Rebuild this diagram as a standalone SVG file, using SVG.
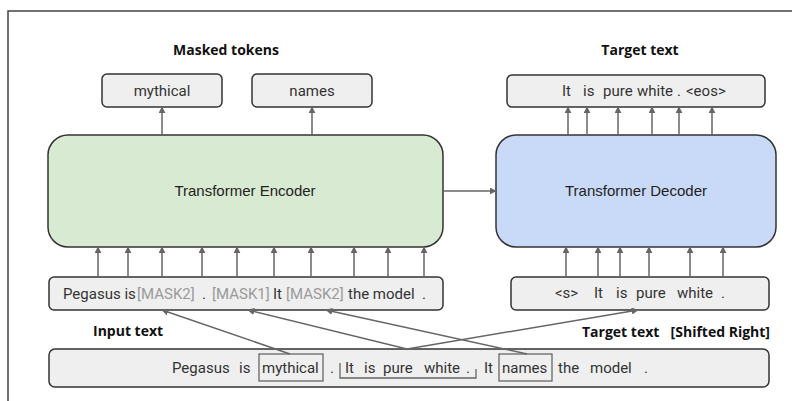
<svg xmlns="http://www.w3.org/2000/svg" width="792" height="401" viewBox="0 0 792 401">
  <defs>
    <marker id="arr" viewBox="0 0 10 10" refX="9" refY="5" markerWidth="7" markerHeight="7" markerUnits="userSpaceOnUse" orient="auto">
      <path d="M0,0 L10,5 L0,10 z" fill="#666"/>
    </marker>
    <style>
      .box { fill: #efefef; stroke: #333; stroke-width: 1.5; }
      .tok { font-family: Roboto, "Liberation Sans", sans-serif; font-size: 15px; fill: #333; }
      .mask { fill: #9a9a9a; }
      .lbl { font-family: "Open Sans", "Liberation Sans", sans-serif; font-size: 14px; font-weight: bold; fill: #111; }
      .big { font-family: "Liberation Sans", Arial, sans-serif; font-size: 15px; fill: #222; }
      .conn line { stroke: #666; stroke-width: 1.5; fill: none; marker-end: url(#arr); }
      .hl { fill: none; stroke: #666; stroke-width: 1.3; }
    </style>
  </defs>

  <!-- outer frame -->
  <path d="M8,401 V11 H792" fill="none" stroke="#444" stroke-width="1.5"/>

  <!-- section labels -->
  <text class="lbl" x="226" y="55" text-anchor="middle">Masked tokens</text>
  <text class="lbl" x="640" y="55" text-anchor="middle">Target text</text>
  <text class="lbl" x="93" y="336">Input text</text>
  <text class="lbl" x="582" y="337">Target text</text>
  <text class="lbl" x="770" y="337" text-anchor="end" font-size="14.5">[Shifted Right]</text>

  <!-- masked token outputs -->
  <g id="out-mythical">
    <rect class="box" x="102" y="74" width="120" height="33" rx="5"/>
    <text class="tok" x="162" y="96" text-anchor="middle">mythical</text>
  </g>
  <g id="out-names">
    <rect class="box" x="252" y="74" width="120" height="33" rx="5"/>
    <text class="tok" x="312" y="96" text-anchor="middle">names</text>
  </g>

  <!-- decoder output -->
  <g id="out-target">
    <rect class="box" x="507" y="75" width="258" height="32" rx="5"/>
    <text class="tok" y="96"><tspan x="562">It</tspan><tspan x="583">is</tspan><tspan x="603">pure</tspan><tspan x="637">white</tspan><tspan x="677">.</tspan><tspan x="686">&lt;eos&gt;</tspan></text>
  </g>

  <!-- encoder -->
  <g id="encoder">
    <rect x="48" y="135" width="395" height="112" rx="20" fill="#d9ead3" stroke="#333" stroke-width="1.5"/>
    <text class="big" x="245" y="196" text-anchor="middle">Transformer Encoder</text>
  </g>

  <!-- decoder -->
  <g id="decoder">
    <rect x="496" y="135" width="280" height="112" rx="20" fill="#c9daf8" stroke="#333" stroke-width="1.5"/>
    <text class="big" x="636" y="196" text-anchor="middle">Transformer Decoder</text>
  </g>

  <!-- encoder input -->
  <g id="enc-input">
    <rect class="box" x="49" y="277" width="394" height="33" rx="5"/>
    <text class="tok" y="299"><tspan x="63">Pegasus is</tspan><tspan class="mask" x="137">[MASK2]</tspan><tspan x="202">.</tspan><tspan class="mask" x="212">[MASK1]</tspan><tspan x="273">It</tspan><tspan class="mask" x="286">[MASK2]</tspan><tspan x="348">the model</tspan><tspan x="422">.</tspan></text>
  </g>

  <!-- decoder input -->
  <g id="dec-input">
    <rect class="box" x="511" y="277" width="258" height="33" rx="5"/>
    <text class="tok" y="298"><tspan x="555">&lt;s&gt;</tspan><tspan x="594">It</tspan><tspan x="616">is</tspan><tspan x="636">pure</tspan><tspan x="677">white</tspan><tspan x="721">.</tspan></text>
  </g>

  <!-- full source text -->
  <g id="source">
    <rect class="box" x="49" y="349" width="720" height="38" rx="6"/>
    <rect class="hl" x="259" y="354" width="64" height="27"/>
    <path class="hl" d="M340,363 V378 H476 V369"/>
    <rect class="hl" x="499" y="354" width="53" height="27"/>
    <text class="tok" y="373"><tspan x="172">Pegasus</tspan><tspan x="239">is</tspan><tspan x="262">mythical</tspan><tspan x="330">.</tspan><tspan x="345">It</tspan><tspan x="364">is</tspan><tspan x="383">pure</tspan><tspan x="424">white</tspan><tspan x="466">.</tspan><tspan x="484">It</tspan><tspan x="502">names</tspan><tspan x="558">the</tspan><tspan x="590">model</tspan><tspan x="644">.</tspan></text>
  </g>

  <!-- connectors -->
  <g id="connectors" class="conn">
    <line x1="162" y1="135" x2="162" y2="107"/>
    <line x1="312" y1="135" x2="312" y2="107"/>
    <line x1="443" y1="191" x2="496" y2="191"/>

    <line x1="568" y1="135" x2="568" y2="107"/>
    <line x1="587" y1="135" x2="587" y2="107"/>
    <line x1="618" y1="135" x2="618" y2="107"/>
    <line x1="652" y1="135" x2="652" y2="107"/>
    <line x1="679" y1="135" x2="679" y2="107"/>
    <line x1="712" y1="135" x2="712" y2="107"/>

    <line x1="98" y1="277" x2="98" y2="247"/>
    <line x1="128" y1="277" x2="128" y2="247"/>
    <line x1="162" y1="277" x2="162" y2="247"/>
    <line x1="202" y1="277" x2="202" y2="247"/>
    <line x1="237" y1="277" x2="237" y2="247"/>
    <line x1="274" y1="277" x2="274" y2="247"/>
    <line x1="311" y1="277" x2="311" y2="247"/>
    <line x1="354" y1="277" x2="354" y2="247"/>
    <line x1="388" y1="277" x2="388" y2="247"/>
    <line x1="424" y1="277" x2="424" y2="247"/>

    <line x1="566" y1="277" x2="566" y2="247"/>
    <line x1="598" y1="277" x2="598" y2="247"/>
    <line x1="620" y1="277" x2="620" y2="247"/>
    <line x1="649" y1="277" x2="649" y2="247"/>
    <line x1="690" y1="277" x2="690" y2="247"/>
    <line x1="723" y1="277" x2="723" y2="247"/>

    <line x1="290" y1="354" x2="162" y2="310"/>
    <line x1="407" y1="349" x2="248" y2="310"/>
    <line x1="527" y1="354" x2="326" y2="310"/>
    <line x1="407" y1="349" x2="638" y2="310"/>
  </g>
</svg>
